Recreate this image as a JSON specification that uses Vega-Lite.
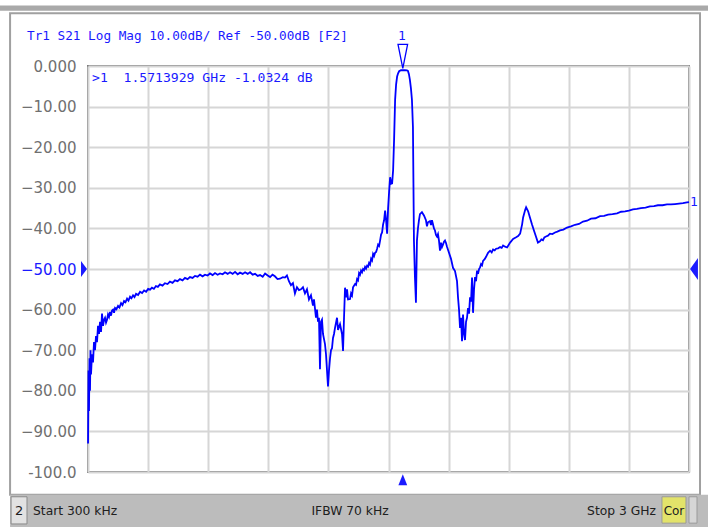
{
  "$schema": "https://vega.github.io/schema/vega-lite/v6.json",
  "autosize": "none",
  "width": 601,
  "height": 406,
  "padding": {"left": 88, "top": 66, "right": 19, "bottom": 55},
  "background": "white",
  "config": {
    "view": {"stroke": "#7a7a7a", "strokeWidth": 2},
    "text": {"font": "DejaVu Sans"}
  },
  "datasets": {
    "trace": [
      {"f":0.0003,"dB":-93},{"f":0.0025,"dB":-75},{"f":0.005,"dB":-85},{"f":0.0075,"dB":-72},{"f":0.010,"dB":-80},
      {"f":0.0125,"dB":-70},{"f":0.015,"dB":-76},{"f":0.020,"dB":-71},{"f":0.025,"dB":-73},{"f":0.030,"dB":-68},
      {"f":0.035,"dB":-70},{"f":0.040,"dB":-66.5},{"f":0.045,"dB":-68},{"f":0.050,"dB":-64},{"f":0.055,"dB":-66},
      {"f":0.060,"dB":-63},{"f":0.065,"dB":-65.5},{"f":0.070,"dB":-61},{"f":0.075,"dB":-64},{"f":0.080,"dB":-62.5},
      {"f":0.085,"dB":-62},{"f":0.090,"dB":-63.2},{"f":0.095,"dB":-62.5},{"f":0.100,"dB":-61.2},{"f":0.105,"dB":-61.8},
      {"f":0.110,"dB":-60.6},{"f":0.115,"dB":-61.5},{"f":0.120,"dB":-60.2},{"f":0.125,"dB":-60},{"f":0.130,"dB":-60.8},
      {"f":0.135,"dB":-59.6},{"f":0.142,"dB":-59.9},{"f":0.150,"dB":-59.1},{"f":0.157,"dB":-59.5},{"f":0.165,"dB":-58.4},
      {"f":0.172,"dB":-58.9},{"f":0.180,"dB":-57.9},{"f":0.187,"dB":-58.2},{"f":0.195,"dB":-57.3},{"f":0.202,"dB":-57.8},
      {"f":0.210,"dB":-56.8},{"f":0.217,"dB":-57.2},{"f":0.225,"dB":-56.5},{"f":0.232,"dB":-56.9},{"f":0.240,"dB":-56.1},
      {"f":0.250,"dB":-56.4},{"f":0.260,"dB":-55.6},{"f":0.270,"dB":-55.9},{"f":0.280,"dB":-55.3},{"f":0.290,"dB":-55.6},
      {"f":0.300,"dB":-54.9},{"f":0.310,"dB":-55.1},{"f":0.319,"dB":-54.6},{"f":0.329,"dB":-54.9},{"f":0.339,"dB":-54.2},
      {"f":0.349,"dB":-54.4},{"f":0.359,"dB":-53.8},{"f":0.372,"dB":-54.1},{"f":0.384,"dB":-53.5},{"f":0.397,"dB":-53.7},
      {"f":0.409,"dB":-53.1},{"f":0.422,"dB":-53.4},{"f":0.434,"dB":-52.8},{"f":0.447,"dB":-53.0},{"f":0.459,"dB":-52.5},
      {"f":0.472,"dB":-52.8},{"f":0.484,"dB":-52.2},{"f":0.497,"dB":-52.5},{"f":0.509,"dB":-52.0},{"f":0.522,"dB":-52.2},
      {"f":0.534,"dB":-51.7},{"f":0.547,"dB":-51.9},{"f":0.559,"dB":-51.4},{"f":0.572,"dB":-51.8},{"f":0.584,"dB":-51.4},
      {"f":0.597,"dB":-51.6},{"f":0.609,"dB":-51.1},{"f":0.622,"dB":-51.5},{"f":0.634,"dB":-51.0},{"f":0.647,"dB":-51.4},
      {"f":0.659,"dB":-51.1},{"f":0.672,"dB":-51.3},{"f":0.684,"dB":-50.8},{"f":0.697,"dB":-51.2},{"f":0.709,"dB":-50.8},
      {"f":0.722,"dB":-51.2},{"f":0.734,"dB":-50.7},{"f":0.747,"dB":-51.3},{"f":0.759,"dB":-50.9},{"f":0.772,"dB":-51.2},
      {"f":0.784,"dB":-50.8},{"f":0.797,"dB":-51.2},{"f":0.809,"dB":-50.8},{"f":0.822,"dB":-51.4},{"f":0.834,"dB":-51.2},
      {"f":0.847,"dB":-51.7},{"f":0.859,"dB":-51.5},{"f":0.872,"dB":-51.9},{"f":0.884,"dB":-51.1},{"f":0.897,"dB":-51.6},
      {"f":0.909,"dB":-52.0},{"f":0.921,"dB":-51.4},{"f":0.933,"dB":-51.8},{"f":0.946,"dB":-52.5},{"f":0.958,"dB":-52.4},
      {"f":0.973,"dB":-52},{"f":0.983,"dB":-52.1},{"f":0.993,"dB":-51.6},
      {"f":1.003,"dB":-53},{"f":1.013,"dB":-54},{"f":1.023,"dB":-53.5},{"f":1.033,"dB":-56},{"f":1.043,"dB":-54.5},
      {"f":1.053,"dB":-55.2},{"f":1.063,"dB":-55},{"f":1.073,"dB":-54.5},{"f":1.083,"dB":-56},{"f":1.093,"dB":-55},
      {"f":1.103,"dB":-57.5},{"f":1.113,"dB":-56.5},{"f":1.123,"dB":-59},{"f":1.128,"dB":-57.5},{"f":1.138,"dB":-62},
      {"f":1.143,"dB":-60},{"f":1.148,"dB":-63},{"f":1.153,"dB":-62},{"f":1.158,"dB":-74.7},{"f":1.163,"dB":-63},
      {"f":1.168,"dB":-62.5},{"f":1.173,"dB":-66},{"f":1.183,"dB":-68.5},{"f":1.188,"dB":-71},{"f":1.198,"dB":-78.9},
      {"f":1.203,"dB":-75},{"f":1.208,"dB":-72},{"f":1.213,"dB":-70},{"f":1.218,"dB":-69.5},{"f":1.223,"dB":-67},
      {"f":1.228,"dB":-66},{"f":1.233,"dB":-64.5},{"f":1.243,"dB":-62},{"f":1.248,"dB":-65},{"f":1.258,"dB":-63.6},
      {"f":1.268,"dB":-66},{"f":1.273,"dB":-70.2},{"f":1.278,"dB":-62},{"f":1.283,"dB":-54.6},{"f":1.288,"dB":-57},
      {"f":1.293,"dB":-55},{"f":1.298,"dB":-57.5},{"f":1.308,"dB":-57.4},{"f":1.313,"dB":-56},{"f":1.318,"dB":-56.5},
      {"f":1.323,"dB":-54.5},{"f":1.333,"dB":-53.7},{"f":1.338,"dB":-53.9},{"f":1.343,"dB":-52.5},{"f":1.348,"dB":-52.8},
      {"f":1.353,"dB":-51},{"f":1.358,"dB":-51.4},{"f":1.363,"dB":-50.4},{"f":1.368,"dB":-50.8},
      {"f":1.373,"dB":-50},{"f":1.378,"dB":-50.3},{"f":1.383,"dB":-49.5},{"f":1.388,"dB":-49.9},{"f":1.393,"dB":-49.2},
      {"f":1.398,"dB":-49.4},{"f":1.403,"dB":-48.5},{"f":1.408,"dB":-48.9},{"f":1.413,"dB":-47.5},{"f":1.418,"dB":-47.9},
      {"f":1.423,"dB":-46.3},{"f":1.428,"dB":-46.8},{"f":1.433,"dB":-46},{"f":1.438,"dB":-45.8},{"f":1.443,"dB":-45},{"f":1.448,"dB":-44},{"f":1.453,"dB":-44.3},
      {"f":1.458,"dB":-43},{"f":1.463,"dB":-41.5},{"f":1.468,"dB":-41},{"f":1.473,"dB":-39},{"f":1.478,"dB":-38},
      {"f":1.483,"dB":-35.6},{"f":1.488,"dB":-38},{"f":1.493,"dB":-41.3},{"f":1.498,"dB":-35},{"f":1.503,"dB":-31},
      {"f":1.508,"dB":-27.4},{"f":1.513,"dB":-29},{"f":1.518,"dB":-28.9},{"f":1.523,"dB":-25.7},{"f":1.528,"dB":-18},
      {"f":1.533,"dB":-8.3},{"f":1.538,"dB":-4.5},{"f":1.543,"dB":-2.6},{"f":1.548,"dB":-1.8},{"f":1.553,"dB":-1.3},
      {"f":1.5625,"dB":-1.05},{"f":1.5714,"dB":-1.0324},{"f":1.582,"dB":-1.05},{"f":1.592,"dB":-1.1},{"f":1.597,"dB":-1.2},
      {"f":1.602,"dB":-2},{"f":1.607,"dB":-3.5},{"f":1.612,"dB":-5.5},{"f":1.617,"dB":-8.3},{"f":1.622,"dB":-15},
      {"f":1.627,"dB":-43},{"f":1.632,"dB":-52},{"f":1.637,"dB":-58.3},{"f":1.642,"dB":-43},{"f":1.647,"dB":-40},
      {"f":1.652,"dB":-38},{"f":1.657,"dB":-36.5},{"f":1.667,"dB":-36},{"f":1.677,"dB":-36.8},{"f":1.687,"dB":-38},
      {"f":1.692,"dB":-39.5},{"f":1.697,"dB":-38.5},{"f":1.707,"dB":-38.2},{"f":1.712,"dB":-39.2},{"f":1.717,"dB":-38},{"f":1.722,"dB":-39},
      {"f":1.727,"dB":-40},{"f":1.732,"dB":-40.5},{"f":1.737,"dB":-41.6},{"f":1.742,"dB":-42},{"f":1.747,"dB":-41.4},{"f":1.752,"dB":-43},{"f":1.757,"dB":-45.5},{"f":1.762,"dB":-43.5},
      {"f":1.767,"dB":-44.6},{"f":1.772,"dB":-44},{"f":1.777,"dB":-43.3},{"f":1.782,"dB":-43},{"f":1.787,"dB":-43.6},{"f":1.792,"dB":-44.5},{"f":1.802,"dB":-46},{"f":1.812,"dB":-47.5},
      {"f":1.822,"dB":-49.7},{"f":1.832,"dB":-50.5},{"f":1.842,"dB":-53},{"f":1.847,"dB":-57},{"f":1.852,"dB":-60},
      {"f":1.857,"dB":-64.5},{"f":1.862,"dB":-62},{"f":1.867,"dB":-67.8},{"f":1.872,"dB":-61.2},{"f":1.877,"dB":-66},
      {"f":1.882,"dB":-67.5},{"f":1.887,"dB":-63},{"f":1.892,"dB":-62},{"f":1.897,"dB":-59.6},{"f":1.902,"dB":-61},
      {"f":1.907,"dB":-57},{"f":1.912,"dB":-58},{"f":1.917,"dB":-52.1},{"f":1.922,"dB":-60.8},{"f":1.927,"dB":-55},
      {"f":1.932,"dB":-52},{"f":1.937,"dB":-53},{"f":1.942,"dB":-50.4},{"f":1.947,"dB":-51.2},{"f":1.952,"dB":-50},{"f":1.957,"dB":-49.6},{"f":1.962,"dB":-48.8},{"f":1.967,"dB":-49.1},{"f":1.972,"dB":-48},
      {"f":1.980,"dB":-47.6},{"f":1.987,"dB":-47},{"f":1.997,"dB":-46},{"f":2.007,"dB":-45.5},{"f":2.015,"dB":-45.9},{"f":2.022,"dB":-45.2},{"f":2.030,"dB":-45.4},{"f":2.037,"dB":-45},
      {"f":2.047,"dB":-44.9},{"f":2.057,"dB":-44.6},{"f":2.065,"dB":-44.8},{"f":2.072,"dB":-44.2},{"f":2.082,"dB":-44.5},{"f":2.092,"dB":-44.7},{"f":2.107,"dB":-43.5},{"f":2.122,"dB":-42.6},
      {"f":2.137,"dB":-42.2},{"f":2.147,"dB":-41.9},{"f":2.157,"dB":-41.3},{"f":2.167,"dB":-39},{"f":2.172,"dB":-37.3},{"f":2.182,"dB":-35.5},
      {"f":2.187,"dB":-34.8},{"f":2.197,"dB":-35.8},{"f":2.206,"dB":-37.3},{"f":2.216,"dB":-39},{"f":2.226,"dB":-40.5},
      {"f":2.236,"dB":-42},{"f":2.246,"dB":-43.5},{"f":2.256,"dB":-43.2},{"f":2.263,"dB":-42.7},{"f":2.271,"dB":-42.9},{"f":2.278,"dB":-42.2},{"f":2.286,"dB":-42},
      {"f":2.296,"dB":-41.8},{"f":2.306,"dB":-41.3},{"f":2.318,"dB":-41.4},{"f":2.331,"dB":-41},{"f":2.343,"dB":-40.8},{"f":2.356,"dB":-40.5},{"f":2.373,"dB":-40.3},{"f":2.391,"dB":-39.8},{"f":2.411,"dB":-39.5},{"f":2.431,"dB":-39.1},
      {"f":2.451,"dB":-38.9},{"f":2.471,"dB":-38.3},{"f":2.491,"dB":-38.1},{"f":2.511,"dB":-37.6},{"f":2.533,"dB":-37.5},{"f":2.556,"dB":-37},{"f":2.576,"dB":-36.9},{"f":2.596,"dB":-36.6},{"f":2.618,"dB":-36.5},{"f":2.641,"dB":-36.3},
      {"f":2.661,"dB":-35.9},{"f":2.681,"dB":-35.8},{"f":2.700,"dB":-35.6},{"f":2.720,"dB":-35.3},{"f":2.740,"dB":-35.2},{"f":2.760,"dB":-35},{"f":2.783,"dB":-34.9},{"f":2.805,"dB":-34.6},{"f":2.825,"dB":-34.5},{"f":2.845,"dB":-34.3},
      {"f":2.868,"dB":-34.3},{"f":2.890,"dB":-34.1},{"f":2.910,"dB":-34.1},{"f":2.930,"dB":-34},{"f":2.950,"dB":-33.9},{"f":2.970,"dB":-33.8},{"f":2.990,"dB":-33.6},{"f":3.0,"dB":-33.5}
    ]
  },
  "layer": [
    {
      "data": {"values": [{}]},
      "mark": {"type": "rect", "fill": "#a9a9a9", "clip": false},
      "encoding": {
        "x": {"datum": -0.44, "type": "quantitative", "scale": {"domain": [0, 3], "nice": false, "zero": false},
              "axis": {"values": [0,0.3,0.6,0.9,1.2,1.5,1.8,2.1,2.4,2.7,3.0], "labels": false, "ticks": false, "domain": false, "title": null, "grid": true, "gridColor": "#d6d6d6", "gridWidth": 2}},
        "x2": {"datum": 3.1},
        "y": {"datum": 14.9, "type": "quantitative", "scale": {"domain": [-100, 0], "nice": false, "zero": false},
              "axis": {"values": [0,-10,-20,-30,-40,-50,-60,-70,-80,-90,-100], "title": null, "ticks": false, "domain": false,
                       "grid": true, "gridColor": "#d6d6d6", "gridWidth": 2, "labelPadding": 12,
                       "labelFont": "DejaVu Sans", "labelFontSize": 15,
                       "labelExpr": "datum.value == 0 ? '0.000' : (datum.value == -100 ? '-100.0' : format(datum.value, '.2f'))",
                       "labelColor": {"condition": {"test": "datum.value == -50", "value": "#1a1aff"}, "value": "#707070"}}},
        "y2": {"datum": 13.6}
      }
    },
    {
      "data": {"values": [{}]},
      "mark": {"type": "rect", "fill": null, "stroke": "#a0a0a0", "strokeWidth": 2, "clip": false},
      "encoding": {
        "x": {"datum": -0.389, "type": "quantitative"}, "x2": {"datum": 3.055},
        "y": {"datum": 13.0, "type": "quantitative"}, "y2": {"datum": -105.6}
      }
    },
    {
      "data": {"values": [{}]},
      "mark": {"type": "rect", "fill": "#bcbcbc", "clip": false},
      "encoding": {
        "x": {"datum": -0.389, "type": "quantitative"}, "x2": {"datum": 3.1},
        "y": {"datum": -105.6, "type": "quantitative"}, "y2": {"datum": -113.6}
      }
    },
    {
      "data": {"values": [{}]},
      "mark": {"type": "rect", "fill": "#e2e2e2", "stroke": "#8a8a8a", "strokeWidth": 1, "clip": false},
      "encoding": {
        "x": {"datum": -0.384, "type": "quantitative"}, "x2": {"datum": -0.3045},
        "y": {"datum": -106.1, "type": "quantitative"}, "y2": {"datum": -112.8}
      }
    },
    {
      "data": {"values": [{}]},
      "mark": {"type": "rect", "fill": "#e3e36a", "stroke": "#9a9a9a", "strokeWidth": 1, "clip": false},
      "encoding": {
        "x": {"datum": 2.865, "type": "quantitative"}, "x2": {"datum": 2.985},
        "y": {"datum": -106.1, "type": "quantitative"}, "y2": {"datum": -112.6}
      }
    },
    {
      "data": {"values": [{}]},
      "mark": {"type": "rect", "fill": "#d6d6d6", "stroke": "#9a9a9a", "strokeWidth": 1, "clip": false},
      "encoding": {
        "x": {"datum": 3.0, "type": "quantitative"}, "x2": {"datum": 3.04},
        "y": {"datum": -106.1, "type": "quantitative"}, "y2": {"datum": -112.6}
      }
    },
    {
      "data": {"name": "trace"},
      "mark": {"type": "line", "color": "#0000ff", "strokeWidth": 1.8},
      "encoding": {
        "x": {"field": "f", "type": "quantitative"},
        "y": {"field": "dB", "type": "quantitative"}
      }
    },
    {
      "data": {"values": [{}]},
      "mark": {"type": "point", "shape": "M-0.4,-1L0.4,-1L0,1Z", "size": 576, "filled": false, "stroke": "#0000ff", "strokeWidth": 1.3, "opacity": 1, "clip": false},
      "encoding": {"x": {"datum": 1.5714, "type": "quantitative"}, "y": {"datum": 2.36, "type": "quantitative"}}
    },
    {
      "data": {"values": [{}]},
      "mark": {"type": "point", "shape": "M-0.375,-1L0.375,0L-0.375,1Z", "size": 256, "filled": true, "fill": "#1a1aff", "opacity": 1, "clip": false},
      "encoding": {"x": {"datum": -0.02, "type": "quantitative"}, "y": {"datum": -50, "type": "quantitative"}}
    },
    {
      "data": {"values": [{}]},
      "mark": {"type": "point", "shape": "M0.36,-1L-0.36,0L0.36,1Z", "size": 484, "filled": true, "fill": "#1a1aff", "opacity": 1, "clip": false},
      "encoding": {"x": {"datum": 3.025, "type": "quantitative"}, "y": {"datum": -50, "type": "quantitative"}}
    },
    {
      "data": {"values": [{}]},
      "mark": {"type": "point", "shape": "M0,-1L0.8,1L-0.8,1Z", "size": 121, "filled": true, "fill": "#1a1aff", "opacity": 1, "clip": false},
      "encoding": {"x": {"datum": 1.5714, "type": "quantitative"}, "y": {"datum": -101.9, "type": "quantitative"}}
    },
    {
      "data": {"values": [{}]},
      "mark": {"type": "text", "font": "DejaVu Sans Mono", "fontSize": 12.7, "color": "#1a1aff", "align": "left", "baseline": "alphabetic", "clip": false},
      "encoding": {"x": {"datum": -0.3045, "type": "quantitative"}, "y": {"datum": 6.4, "type": "quantitative"}, "text": {"value": "Tr1 S21 Log Mag 10.00dB/ Ref -50.00dB [F2]"}}
    },
    {
      "data": {"values": [{}]},
      "mark": {"type": "text", "font": "DejaVu Sans Mono", "fontSize": 13.1, "color": "#1a1aff", "align": "left", "baseline": "middle", "clip": false},
      "encoding": {"x": {"datum": 0.02, "type": "quantitative"}, "y": {"datum": -3.05, "type": "quantitative"}, "text": {"value": ">1\u00a0\u00a01.5713929 GHz -1.0324 dB"}}
    },
    {
      "data": {"values": [{}]},
      "mark": {"type": "text", "font": "DejaVu Sans Mono", "fontSize": 13, "color": "#1a1aff", "align": "center", "baseline": "alphabetic", "dx": -1, "clip": false},
      "encoding": {"x": {"datum": 1.5714, "type": "quantitative"}, "y": {"datum": 6.3, "type": "quantitative"}, "text": {"value": "1"}}
    },
    {
      "data": {"values": [{}]},
      "mark": {"type": "text", "font": "DejaVu Sans Mono", "fontSize": 13, "color": "#1a1aff", "align": "left", "baseline": "middle", "clip": false},
      "encoding": {"x": {"datum": 3.005, "type": "quantitative"}, "y": {"datum": -33.6, "type": "quantitative"}, "text": {"value": "1"}}
    },
    {
      "data": {"values": [{}]},
      "mark": {"type": "text", "fontSize": 13, "color": "#202020", "align": "center", "baseline": "middle", "clip": false},
      "encoding": {"x": {"datum": -0.344, "type": "quantitative"}, "y": {"datum": -109.5, "type": "quantitative"}, "text": {"value": "2"}}
    },
    {
      "data": {"values": [{}]},
      "mark": {"type": "text", "fontSize": 12.3, "color": "#202020", "align": "left", "baseline": "middle", "clip": false},
      "encoding": {"x": {"datum": -0.2745, "type": "quantitative"}, "y": {"datum": -109.5, "type": "quantitative"}, "text": {"value": "Start 300 kHz"}}
    },
    {
      "data": {"values": [{}]},
      "mark": {"type": "text", "fontSize": 12.3, "color": "#202020", "align": "center", "baseline": "middle", "clip": false},
      "encoding": {"x": {"datum": 1.308, "type": "quantitative"}, "y": {"datum": -109.5, "type": "quantitative"}, "text": {"value": "IFBW 70 kHz"}}
    },
    {
      "data": {"values": [{}]},
      "mark": {"type": "text", "fontSize": 12.3, "color": "#202020", "align": "right", "baseline": "middle", "clip": false},
      "encoding": {"x": {"datum": 2.835, "type": "quantitative"}, "y": {"datum": -109.5, "type": "quantitative"}, "text": {"value": "Stop 3 GHz"}}
    },
    {
      "data": {"values": [{}]},
      "mark": {"type": "text", "fontSize": 12, "color": "#202020", "align": "center", "baseline": "middle", "clip": false},
      "encoding": {"x": {"datum": 2.925, "type": "quantitative"}, "y": {"datum": -109.5, "type": "quantitative"}, "text": {"value": "Cor"}}
    }
  ]
}
